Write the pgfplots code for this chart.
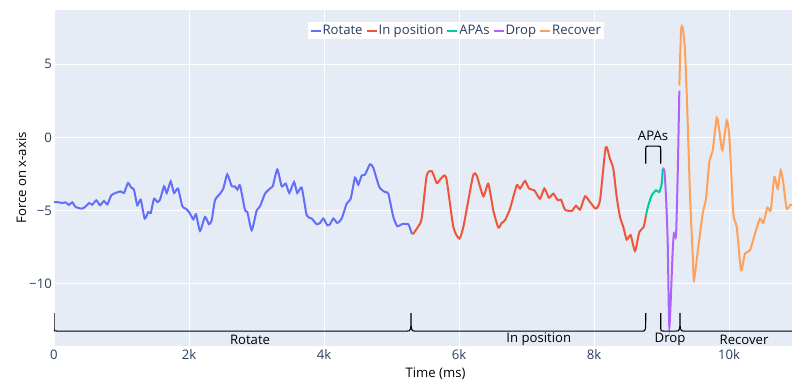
\documentclass[border=0pt]{standalone}
\usepackage{fontspec}
\setmainfont{Open Sans}
\usepackage{pgfplots}
\pgfplotsset{compat=1.18}
\definecolor{plotbg}{HTML}{E5ECF6}
\definecolor{crot}{HTML}{636EFA}
\definecolor{cinp}{HTML}{EF553B}
\definecolor{capa}{HTML}{00CC96}
\definecolor{cdrop}{HTML}{AB63FA}
\definecolor{crec}{HTML}{FFA15A}
\definecolor{ctick}{HTML}{2A3F5F}
\newcommand{\fs}{\fontsize{13.2}{15}\selectfont}
\begin{document}
\begin{tikzpicture}
\begin{axis}[
  scale only axis, width=738bp, height=335.7bp,
  xmin=0, xmax=10933, ymin=-14.25, ymax=8.72,
  scaled x ticks=false, scaled y ticks=false,
  axis background/.style={fill=plotbg},
  axis line style={draw=none},
  major tick length=0pt,
  xtick={0,2000,4000,6000,8000,10000},
  xticklabels={0,2k,4k,6k,8k,10k},
  ytick={-10,-5,5},
  yticklabels={−10,−5,5},
  extra y ticks={0}, extra y tick labels={0},
  extra y tick style={grid style={white,line width=1.6bp}},
  grid=major,
  major grid style={white,line width=1bp},
  /pgf/number format/assume math mode=true,
  tick label style={font=\fs, text=ctick},
  xticklabel style={anchor=north, inner sep=0pt, yshift=-3.6bp},
  yticklabel style={anchor=east, inner sep=0pt, xshift=-2bp},
  xlabel={Time (ms)}, ylabel={Force on x-axis},
  label style={font=\fs},
  x label style={at={(axis description cs:0.517,-0.0822)}, anchor=center},
  y label style={at={(axis description cs:-0.0443,0.5)}, anchor=center},
  legend columns=-1,
  legend style={at={(axis description cs:0.5444,0.9383)}, anchor=center,
    draw=none, fill=white, font=\fs, text=ctick, inner xsep=2bp, inner ysep=2bp,
    nodes={inner sep=1bp},
    /tikz/every even column/.append style={column sep=2bp}},
  legend image code/.code={\draw[#1] (0bp,0bp) -- (10bp,0bp);},
  every axis plot/.append style={line width=2bp, smooth, tension=0.35},
]
\addplot[crot] coordinates {(0,-4.42)(74,-4.44)(123,-4.49)(173,-4.44)(222,-4.62)(271,-4.44)(321,-4.76)(419,-4.87)(470,-4.71)(519,-4.49)(567,-4.60)(627,-4.30)(681,-4.64)(741,-4.35)(790,-4.58)(849,-3.96)(914,-3.80)(988,-3.69)(1037,-3.80)(1096,-3.12)(1145,-3.44)(1185,-3.57)(1234,-4.64)(1284,-4.26)(1344,-5.55)(1397,-5.10)(1433,-5.17)(1482,-4.19)(1530,-4.42)(1570,-4.26)(1630,-3.35)(1670,-3.80)(1729,-3.01)(1778,-3.80)(1837,-3.50)(1901,-4.71)(1951,-4.87)(2000,-5.10)(2064,-5.60)(2104,-5.26)(2163,-6.40)(2237,-5.44)(2296,-5.94)(2336,-5.67)(2385,-4.30)(2459,-3.85)(2508,-3.50)(2567,-2.53)(2633,-3.33)(2681,-3.35)(2716,-3.57)(2756,-3.28)(2830,-4.99)(2864,-5.10)(2929,-6.35)(3003,-4.99)(3052,-4.71)(3126,-3.85)(3200,-3.50)(3240,-3.35)(3308,-2.19)(3373,-3.35)(3433,-3.16)(3486,-3.80)(3556,-3.05)(3604,-3.80)(3670,-3.44)(3744,-5.33)(3818,-5.55)(3892,-5.94)(3941,-5.85)(3990,-5.55)(4049,-6.01)(4089,-5.94)(4138,-5.55)(4197,-5.85)(4262,-5.55)(4336,-4.53)(4396,-4.19)(4459,-2.75)(4508,-3.23)(4558,-2.60)(4607,-2.55)(4681,-1.84)(4730,-2.07)(4819,-3.39)(4904,-3.74)(4953,-3.85)(5027,-5.44)(5086,-6.08)(5151,-5.94)(5249,-5.94)(5299,-6.58)};
\addlegendentry{Rotate}
\addplot[cinp] coordinates {(5299,-6.58)(5323,-6.58)(5397,-6.08)(5447,-5.55)(5522,-2.60)(5596,-2.30)(5670,-3.12)(5719,-2.89)(5808,-2.71)(5916,-6.13)(6005,-6.92)(6064,-6.13)(6138,-4.30)(6212,-2.55)(6262,-2.60)(6360,-4.03)(6434,-3.16)(6508,-4.99)(6582,-6.17)(6632,-5.85)(6681,-5.67)(6756,-4.87)(6855,-3.28)(6904,-3.50)(6978,-2.98)(7037,-3.50)(7116,-3.62)(7200,-4.19)(7264,-3.50)(7333,-4.12)(7397,-3.85)(7462,-4.30)(7511,-4.26)(7570,-4.94)(7670,-5.03)(7733,-4.67)(7793,-4.94)(7867,-4.03)(7941,-4.42)(8025,-4.87)(8089,-4.30)(8173,-0.68)(8237,-1.48)(8286,-2.14)(8336,-4.08)(8385,-5.44)(8434,-6.13)(8484,-6.99)(8543,-6.69)(8607,-7.77)(8671,-6.47)(8735,-6.13)(8770,-5.33)};
\addlegendentry{In position}
\addplot[capa] coordinates {(8770,-5.33)(8805,-4.64)(8855,-3.96)(8918,-3.62)(8967,-3.74)(9003,-3.16)(9018,-2.14)};
\addlegendentry{APAs}
\addplot[cdrop] coordinates {(9018,-2.14)(9042,-2.25)(9067,-4.08)(9092,-7.26)(9116,-13.0)(9166,-7.72)(9185,-6.58)(9215,-6.69)(9240,-2.48)(9264,3.21)};
\addlegendentry{Drop}
\addplot[crec] coordinates {(9264,3.55)(9289,7.31)(9314,7.53)(9348,5.94)(9382,1.84)(9422,-3.96)(9462,-8.06)(9481,-9.77)(9545,-7.49)(9610,-5.21)(9659,-4.19)(9708,-1.69)(9758,-0.89)(9818,1.35)(9856,0.48)(9901,-0.89)(9966,1.16)(10005,0.02)(10064,-5.21)(10114,-6.13)(10178,-9.08)(10237,-7.94)(10311,-7.72)(10385,-6.58)(10459,-5.55)(10508,-5.85)(10568,-4.80)(10618,-4.99)(10671,-2.71)(10721,-3.50)(10766,-2.25)(10805,-3.16)(10853,-4.87)(10904,-4.64)(10933,-4.60)};
\addlegendentry{Recover}
% bracket annotations
\draw[black, line width=1.1bp]
  (axis cs:0,-12.02) -- (axis cs:0,-13.05) .. controls (axis cs:0,-13.25) .. (axis cs:45,-13.25)
  -- (axis cs:5230,-13.25) .. controls (axis cs:5289,-13.25) .. (axis cs:5289,-12.02)
  .. controls (axis cs:5289,-13.25) .. (axis cs:5348,-13.25)
  -- (axis cs:8720,-13.25) .. controls (axis cs:8766,-13.25) .. (axis cs:8766,-12.02);
\draw[black, line width=1.1bp]
  (axis cs:8988,-12.02) -- (axis cs:8988,-13.05) .. controls (axis cs:8988,-13.25) .. (axis cs:9033,-13.25)
  -- (axis cs:9215,-13.25) .. controls (axis cs:9274,-13.25) .. (axis cs:9274,-12.02)
  .. controls (axis cs:9274,-13.25) .. (axis cs:9333,-13.25)
  -- (axis cs:10933,-13.25);
\draw[black, line width=1.1bp]
  (axis cs:8766,-1.80) -- (axis cs:8766,-0.79) .. controls (axis cs:8766,-0.59) .. (axis cs:8811,-0.59)
  -- (axis cs:8943,-0.59) .. controls (axis cs:8988,-0.59) .. (axis cs:8988,-0.79) -- (axis cs:8988,-1.80);
\node[font=\fs, inner sep=0pt, anchor=center] at (axis cs:2904,-13.82) {Rotate};
\node[font=\fs, inner sep=0pt, anchor=center] at (axis cs:7181,-13.82) {In position};
\node[font=\fs, inner sep=0pt, anchor=center] at (axis cs:9126,-13.82) {Drop};
\node[font=\fs, inner sep=0pt, anchor=center] at (axis cs:10222,-13.82) {Recover};
\node[font=\fs, inner sep=0pt, anchor=center] at (axis cs:8874,0.14) {APAs};
\end{axis}
\pgfresetboundingbox
\path[use as bounding box] ([shift={(-54bp,-36.3bp)}]current axis.south west) rectangle ([shift={(0bp,10bp)}]current axis.north east);
\end{tikzpicture}
\end{document}
